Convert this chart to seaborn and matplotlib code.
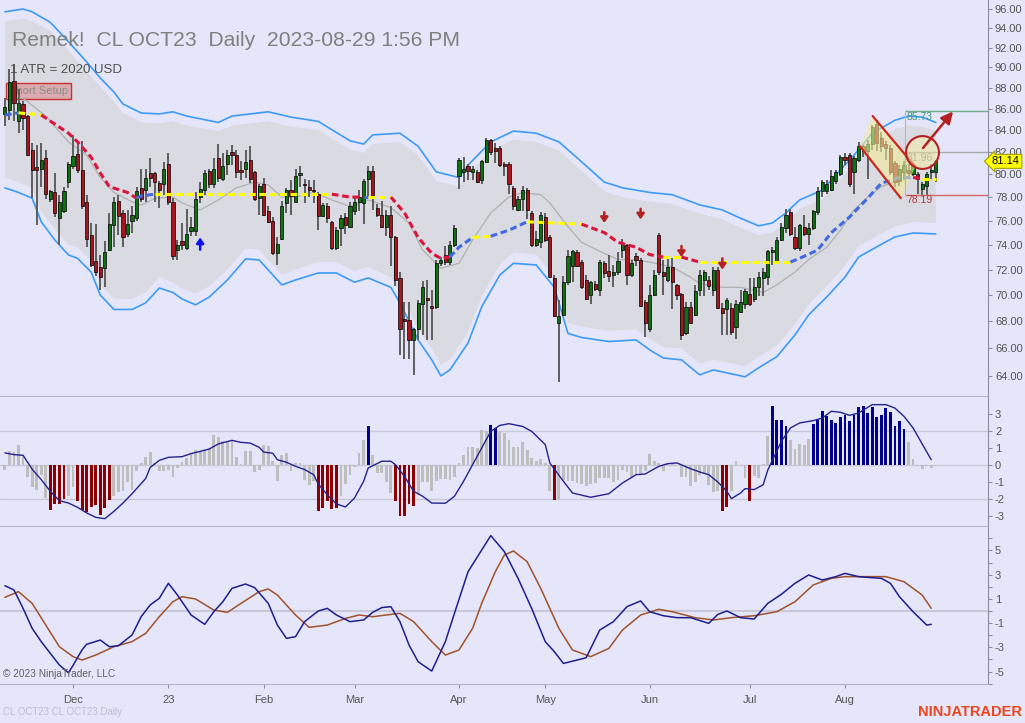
import numpy as np
import pandas as pd
import matplotlib
matplotlib.use("Agg")
import matplotlib.pyplot as plt
import matplotlib.transforms as mtransforms
from matplotlib.ticker import FixedLocator, NullLocator, FuncFormatter
from matplotlib.patches import Polygon
import seaborn as sns

sns.set_style("white")
plt.rcParams["font.family"] = ["Liberation Sans", "DejaVu Sans"]
plt.rcParams["axes.unicode_minus"] = False

# trading days on the chart (CL OCT23 daily)
dates = pd.bdate_range("2022-11-10", "2023-08-29")
dates = dates.drop(pd.to_datetime(["2022-12-26", "2023-01-02", "2023-04-07"]))
month_labels = ["Dec", "23", "Feb", "Mar", "Apr", "May", "Jun", "Jul", "Aug"]

# OHLC
opens = [85.5, 85.9, 88.7, 84.8, 86.4, 85.3, 82.2, 80.6, 80.5, 81.4,
         77.8, 78.4, 76.2, 76.8, 79.3, 80.7, 81.8, 80.4, 77.6, 74.8,
         72.7, 72.2, 72.1, 73.6, 75.6, 77.7, 76.6, 74.9, 76.0, 76.2,
         78.8, 78.6, 80.1, 80.1, 79.2, 79.1, 80.9, 77.6, 73.6, 74.3,
         73.7, 75.1, 75.1, 78.0, 78.6, 80.3, 79.1, 81.4, 79.6, 80.9,
         82.0, 81.7, 80.4, 80.5, 81.3, 80.2, 77.9, 79.1, 76.8, 76.0,
         73.3, 74.5, 77.5, 78.6, 77.6, 79.9, 79.15, 78.9, 78.65, 78.3,
         76.4, 77.2, 75.9, 73.7, 75.4, 76.3, 75.5, 76.8, 77.6, 77.5,
         79.6, 80.3, 77.1, 76.5, 75.5, 76.5, 74.6, 71.3, 68.2, 68.1,
         66.6, 67.4, 69.3, 69.75, 69.2, 69.1, 72.5, 73.2, 72.6, 74.0,
         79.8, 80.2, 80.7, 80.2, 80.2, 79.5, 81.1, 83.1, 82.3, 82.3,
         80.9, 80.9, 78.8, 76.9, 77.8, 78.6, 76.6, 74.0, 74.2, 76.3,
         74.6, 71.3, 67.9, 68.5, 71.0, 72.3, 73.4, 72.6, 71.2, 70.0,
         70.9, 70.4, 72.5, 71.9, 71.6, 71.8, 73.6, 74.0, 71.6, 73.1,
         72.8, 69.5, 67.4, 70.0, 74.8, 71.8, 71.2, 72.2, 70.8, 70.1,
         67.1, 69.1, 68.5, 70.4, 71.2, 71.2, 70.4, 72.0, 69.0, 68.9,
         69.0, 67.6, 68.7, 69.3, 70.1, 69.7, 70.6, 71.3, 71.4, 73.4,
         72.7, 74.4, 75.4, 76.7, 74.6, 73.7, 75.5, 74.9, 75.4, 76.7,
         78.5, 78.5, 78.6, 79.4, 80.0, 81.5, 81.7, 80.2, 81.3, 82.5,
         82.1, 82.7, 84.6, 83.3, 82.7, 82.3, 81.0, 79.4, 80.2, 80.4,
         80.0, 80.0, 78.7, 79.0, 80.2, 80.2]
highs = [87.0, 89.8, 90.3, 87.9, 86.7, 85.4, 82.8, 82.6, 82.8, 82.2,
         78.6, 80.1, 78.2, 78.9, 81.1, 83.5, 82.8, 83.0, 78.2, 75.8,
         75.7, 73.2, 74.3, 76.6, 78.0, 78.2, 76.9, 76.9, 77.2, 78.9,
         80.5, 80.5, 81.4, 80.2, 79.4, 81.1, 81.9, 77.9, 74.4, 75.8,
         77.0, 76.3, 78.4, 79.3, 80.4, 80.5, 81.4, 82.7, 81.9, 82.2,
         82.6, 82.2, 81.2, 82.2, 82.5, 80.3, 79.1, 79.7, 77.2, 76.3,
         74.6, 77.7, 78.8, 79.5, 80.5, 80.7, 79.6, 79.5, 79.5, 78.4,
         77.5, 77.5, 76.0, 75.5, 76.5, 76.6, 77.6, 78.0, 78.6, 79.6,
         80.7, 80.7, 77.4, 77.7, 76.9, 77.2, 74.7, 71.8, 69.5, 69.5,
         67.5, 69.6, 71.1, 71.2, 70.4, 72.8, 73.0, 73.9, 74.3, 75.6,
         81.4, 81.5, 80.9, 80.7, 80.4, 81.3, 83.3, 83.2, 82.8, 82.5,
         81.1, 81.1, 79.0, 78.1, 79.0, 78.8, 76.8, 75.1, 76.7, 76.6,
         74.8, 71.6, 69.6, 71.5, 73.6, 73.6, 73.6, 72.8, 71.6, 71.1,
         71.1, 72.8, 72.7, 73.2, 72.4, 73.4, 74.5, 74.1, 72.8, 73.3,
         72.9, 69.6, 70.8, 72.0, 75.0, 72.8, 72.9, 72.9, 70.9, 70.2,
         69.5, 69.5, 70.8, 72.0, 72.0, 71.5, 72.2, 72.2, 69.4, 69.8,
         69.4, 69.6, 70.4, 70.5, 71.3, 71.3, 71.8, 72.1, 73.6, 73.8,
         74.6, 75.8, 77.0, 77.0, 75.5, 75.7, 76.5, 75.8, 76.9, 78.9,
         79.5, 79.5, 80.4, 80.4, 81.7, 81.9, 81.9, 81.6, 82.9, 82.6,
         83.1, 84.5, 84.9, 83.8, 83.0, 82.6, 81.2, 80.8, 81.2, 80.9,
         80.9, 80.2, 79.3, 80.2, 80.9, 81.3]
lows = [84.4, 84.9, 84.8, 83.7, 84.0, 81.6, 77.9, 75.6, 78.9, 77.8,
        77.6, 76.3, 74.0, 76.6, 78.8, 80.5, 80.1, 77.0, 73.8, 72.2,
        71.5, 70.4, 70.6, 73.5, 73.8, 74.8, 73.8, 74.6, 75.0, 76.0,
        77.6, 77.6, 78.9, 77.6, 77.1, 78.2, 77.3, 72.8, 72.8, 73.6,
        73.6, 74.7, 74.7, 77.5, 78.2, 78.8, 78.8, 79.3, 79.4, 79.9,
        80.8, 79.7, 79.5, 79.7, 79.2, 77.7, 76.5, 76.4, 75.8, 73.2,
        72.4, 74.4, 76.6, 76.5, 77.6, 78.9, 77.5, 78.0, 77.5, 75.2,
        76.3, 75.8, 73.6, 73.6, 73.9, 74.9, 75.4, 76.5, 76.8, 75.7,
        78.0, 76.9, 76.3, 75.4, 74.7, 72.3, 70.7, 65.5, 65.2, 65.2,
        64.1, 66.6, 67.0, 66.6, 66.6, 68.9, 72.3, 72.4, 72.4, 73.8,
        78.7, 79.3, 79.5, 79.5, 79.2, 79.1, 81.0, 81.7, 81.0, 80.6,
        79.8, 78.3, 76.9, 76.8, 76.8, 76.1, 73.8, 73.8, 73.7, 74.2,
        71.3, 68.3, 63.6, 68.4, 70.8, 71.0, 72.2, 70.5, 69.6, 69.3,
        70.3, 69.9, 71.3, 71.0, 70.6, 71.6, 72.9, 70.8, 71.4, 72.3,
        69.1, 66.8, 67.2, 69.9, 71.6, 70.0, 71.0, 68.9, 69.6, 66.6,
        67.0, 67.8, 68.4, 69.9, 69.9, 70.4, 69.9, 68.9, 67.0, 67.0,
        67.0, 66.7, 68.6, 68.9, 69.2, 69.5, 69.9, 69.9, 70.8, 72.4,
        72.6, 74.3, 75.0, 74.7, 73.6, 73.5, 74.7, 74.0, 75.2, 76.5,
        78.0, 78.3, 78.5, 79.1, 79.8, 80.8, 78.9, 78.3, 81.1, 81.5,
        79.6, 82.2, 82.1, 82.0, 81.3, 79.9, 78.9, 79.0, 79.5, 79.8,
        79.8, 78.3, 78.1, 78.2, 79.6, 79.3]
closes = [86.2, 88.6, 86.5, 86.5, 85.1, 81.7, 80.4, 80.4, 81.3, 78.3,
          78.5, 76.6, 77.6, 78.5, 80.9, 81.6, 80.4, 77.2, 74.5, 72.4,
          71.8, 71.4, 73.4, 75.7, 77.6, 76.4, 74.6, 75.7, 76.5, 78.5,
          77.8, 79.7, 79.7, 79.3, 78.6, 80.5, 77.6, 73.1, 74.0, 74.0,
          74.9, 75.5, 77.8, 78.7, 80.1, 79.1, 80.5, 79.7, 80.7, 81.7,
          81.7, 80.2, 80.2, 81.1, 79.6, 77.8, 79.0, 76.5, 75.9, 73.3,
          74.1, 77.2, 78.6, 78.1, 79.8, 80.1, 79.05, 78.6, 78.55, 76.4,
          77.3, 76.2, 73.7, 75.2, 76.2, 75.6, 77.2, 77.6, 78.0, 79.4,
          80.3, 78.0, 76.5, 75.5, 76.5, 74.6, 71.2, 67.4, 68.0, 66.6,
          67.4, 69.4, 70.6, 69.65, 69.0, 72.5, 72.8, 72.6, 74.0, 75.4,
          81.3, 80.5, 80.3, 80.5, 79.3, 81.2, 83.1, 82.0, 82.1, 80.8,
          80.7, 79.1, 77.2, 77.8, 78.6, 76.9, 74.0, 74.5, 76.5, 74.4,
          71.4, 68.4, 68.4, 71.0, 73.1, 73.5, 72.3, 70.6, 69.7, 71.0,
          70.5, 72.6, 71.7, 71.5, 71.8, 72.7, 74.1, 71.6, 72.5, 72.8,
          69.2, 67.9, 70.0, 71.6, 71.8, 71.5, 72.2, 71.0, 70.0, 67.0,
          69.1, 67.9, 70.3, 71.6, 71.8, 70.7, 72.0, 69.0, 68.6, 69.6,
          67.2, 69.3, 69.5, 70.3, 69.3, 70.6, 71.4, 71.8, 73.5, 73.6,
          74.4, 75.5, 76.5, 74.9, 73.7, 75.6, 74.9, 75.4, 76.8, 78.5,
          79.3, 79.1, 79.8, 80.2, 81.5, 81.3, 79.1, 81.4, 82.5, 82.1,
          82.7, 84.3, 82.8, 82.5, 82.3, 80.2, 79.3, 80.5, 80.8, 80.1,
          80.8, 79.6, 79.1, 80.0, 80.4, 81.14]

# outer (blue) envelope
up_idx = [0, 4, 6, 10, 14, 18, 21, 24, 26, 30, 34, 37, 40, 47, 50, 58, 63, 69, 76, 79,
          81, 87, 91, 95, 100, 102, 107, 112, 117, 122, 127, 132, 136, 142, 147, 153, 158, 162, 166, 169,
          172, 175, 180, 184, 187, 191, 196, 199, 202, 205]
up_val = [95.7, 96.0, 95.7, 94.6, 92.6, 90.55, 88.96, 87.6, 86.44, 85.59, 85.5, 85.7, 85.3, 84.7, 85.3, 85.7, 85.2, 84.8, 83.0, 82.7,
          83.54, 83.7, 82.5, 80.2, 79.7, 80.8, 82.9, 83.9, 83.7, 82.9, 81.1, 79.3, 78.8, 78.4, 78.2, 77.33, 76.9, 76.2, 75.56, 75.8,
          76.65, 77.75, 78.6, 80.37, 81.7, 83.7, 84.9, 85.3, 85.2, 84.7]
lo_idx = [0, 3, 6, 8, 11, 14, 16, 19, 21, 24, 28, 31, 34, 37, 39, 42, 45, 49, 53, 56,
          59, 61, 64, 69, 73, 77, 80, 85, 87, 91, 94, 96, 98, 102, 105, 109, 112, 117, 121, 124,
          127, 133, 139, 142, 145, 149, 153, 156, 163, 166, 170, 174, 177, 181, 185, 188, 192, 196, 200, 205]
lo_val = [78.8, 78.4, 77.9, 75.9, 74.39, 73.17, 72.9, 71.8, 70.0, 68.9, 68.9, 69.4, 70.55, 70.2, 69.7, 69.25, 69.85, 71.18, 72.85, 72.77,
          71.57, 70.79, 71.18, 71.73, 71.73, 71.0, 71.34, 70.6, 69.4, 66.62, 65.17, 64.03, 64.45, 66.4, 69.1, 71.57, 72.5, 72.37, 70.6, 67.1,
          66.8, 66.5, 66.62, 65.89, 65.3, 65.17, 64.1, 64.45, 63.96, 64.6, 65.4, 66.99, 68.48, 69.86, 71.4, 73.0, 73.83, 74.64, 74.97, 74.89]
# inner grey channel (top on up_idx, bottom on lo_idx)
gray_top = [94.7, 95.0, 94.7, 93.7, 91.7, 89.6, 88.1, 86.7, 85.6, 84.7, 84.6, 84.8, 84.4, 83.9, 84.4, 84.8, 84.3, 84.0, 82.2, 81.9,
            82.7, 82.9, 81.7, 79.4, 78.9, 80.0, 82.1, 83.1, 82.9, 82.1, 80.3, 78.5, 78.0, 77.6, 77.4, 76.6, 76.1, 75.4, 74.8, 75.0,
            75.9, 77.0, 77.8, 79.6, 80.9, 82.9, 84.1, 84.4, 84.3, 83.9]
gray_bot = [79.7, 79.3, 78.8, 76.8, 75.3, 74.0, 73.8, 72.7, 70.8, 69.7, 69.7, 70.2, 71.4, 71.0, 70.5, 70.1, 70.7, 72.0, 73.7, 73.6,
            72.4, 71.6, 72.0, 72.6, 72.6, 71.9, 72.2, 71.4, 70.2, 67.4, 66.0, 64.8, 65.2, 67.2, 69.9, 72.4, 73.4, 73.2, 71.4, 67.9,
            67.6, 67.3, 67.4, 66.7, 66.1, 66.0, 64.9, 65.2, 64.7, 65.4, 66.2, 67.8, 69.3, 70.7, 72.3, 73.9, 74.7, 75.5, 75.9, 75.8]

# thin grey average
gm_idx = [4, 9, 14, 18, 21, 24, 28, 30, 33, 37, 39, 43, 47, 51, 55, 58, 61, 64, 68, 72,
          76, 80, 85, 89, 92, 96, 100, 103, 107, 111, 114, 118, 120, 124, 127, 132, 135, 138, 142, 147,
          151, 153, 158, 162, 167, 170, 174, 177, 181, 184, 187, 190, 193, 197]
gm_val = [87.0, 85.3, 82.9, 81.7, 79.7, 78.4, 77.6, 77.3, 77.9, 78.0, 77.5, 76.9, 77.75, 78.8, 79.3, 79.05, 78.0, 78.0, 78.4, 77.75,
          77.2, 77.75, 77.1, 75.8, 73.57, 72.1, 72.5, 74.4, 76.65, 78.0, 78.4, 78.2, 77.5, 75.5, 74.2, 73.3, 72.8, 72.8, 72.6, 72.2,
          71.4, 70.9, 70.6, 70.6, 70.2, 70.8, 71.8, 72.8, 73.8, 75.2, 76.9, 78.0, 78.9, 79.5]

# dashed trend average, segment colours: r = down, y = flat, b = up
ma_idx = [0, 3, 8, 14, 16, 19, 21, 23, 27, 29, 30, 33, 72, 76, 79, 80, 85, 88, 91, 94,
          96, 98, 100, 103, 107, 111, 115, 127, 132, 135, 139, 142, 145, 149, 153, 173, 175, 179, 182, 186,
          190, 193, 197, 200, 202, 205]
ma_val = [85.4, 85.6, 85.4, 83.7, 82.9, 81.5, 80.1, 78.9, 78.4, 77.9, 78.1, 78.25, 78.25, 78.0, 78.0, 78.0, 78.0, 76.65, 74.6, 73.3,
          72.9, 73.0, 73.8, 74.6, 74.7, 75.2, 75.9, 75.7, 75.0, 74.2, 73.8, 73.2, 73.0, 73.0, 72.6, 72.6, 72.9, 73.57, 75.0, 76.3,
          77.9, 79.2, 79.7, 79.7, 79.6, 79.6]
ma_seg = ("by" + "rrrrrrr" + "bb" + "y" + "rr" + "b" + "y" + "rrrrr" + "bb" + "y" + "bb" + "y"
          + "rrrrr" + "y" + "r" + "y" + "bbbbbbbb" + "r" + "y")

# signal arrows
buy_idx, buy_tail, buy_tip = [43], [73.6], [74.6]
sell_idx = [132, 140, 149, 158]
sell_tail = [76.7, 77.0, 73.9, 72.9]
sell_tip = [75.8, 76.1, 73.0, 72.0]

# drawing objects on the right
chan_x = [191.1, 200.5, 197.3, 188.3]
chan_y = [85.3, 80.66, 77.9, 82.5]
level_vals = [85.73, 81.96, 78.19]
level_start = 198.3
circle_x, circle_y = 201.9, 81.96
target_from = (202.2, 82.35)
target_to = (208.8, 85.73)
last_price = 81.14

# histogram panel
hist_vals = [-0.27, 0.80, 0.76, 1.20, 0.60, -0.73, -1.27, -1.45, -0.57, -1.94,
             -2.65, -2.29, -2.29, -1.98, -1.80, -1.31, -2.10, -2.63, -2.76, -2.49,
             -2.33, -2.96, -2.53, -2.06, -1.84, -1.61, -1.51, -1.00, -1.45, -0.33,
             0.12, 0.45, 0.76, 0.12, -0.33, -0.33, -0.31, -0.73, -0.18, 0.16,
             0.41, 0.65, 0.90, 0.84, 0.90, 1.00, 1.75, 1.63, 1.39, 1.39,
             1.39, 0.45, 0.05, 0.80, 0.80, -0.40, -0.27, 1.20, 1.10, 0.25,
             -0.92, 0.60, 0.70, -0.33, 0.10, 0.10, -0.86, -1.16, -0.92, -2.73,
             -2.53, -2.10, -2.60, -2.53, -1.84, -1.12, -0.60, -0.14, 0.70, 1.49,
             2.31, 0.60, -0.47, -0.47, -1.00, -1.65, -2.10, -3.02, -3.02, -2.29,
             -2.43, -1.75, -1.00, -1.00, -1.51, -0.92, -0.80, -0.80, -0.86, -0.73,
             0.12, 0.60, 1.04, 1.04, 1.00, 2.08, 2.00, 2.37, 2.18, 1.98,
             1.88, 1.49, 1.04, 1.04, 1.35, 0.90, 0.41, 0.25, 0.37, 0.12,
             -1.51, -2.04, -1.98, -0.86, -0.92, -0.92, -1.06, -1.12, -1.25, -1.12,
             -1.06, -0.76, -0.76, -0.76, -1.00, -0.86, -0.27, -0.41, -0.76, -0.61,
             -0.53, -0.33, 0.65, 0.22, 0.12, -0.37, 0.06, 0.06, 0.02, -0.73,
             -0.73, -1.25, -1.00, -0.57, -0.53, -1.20, -1.59, -1.55, -2.73, -2.49,
             -1.55, 0.22, 0.02, -0.76, -2.14, -0.63, -0.76, 0.06, 1.69, 3.45,
             2.67, 2.67, 2.31, 1.49, 0.96, 1.24, 1.16, 1.55, 2.41, 2.67,
             3.20, 2.86, 2.67, 2.47, 2.80, 2.92, 2.57, 2.96, 3.39, 3.45,
             3.06, 3.39, 2.80, 2.92, 3.35, 3.12, 2.27, 2.57, 2.12, 1.35,
             0.37, -0.05, -0.22, -0.08, -0.18, np.nan]
hist_kind = ("g" * 10 + "r" * 4 + "g" * 2 + "r" * 8 + "g" * 45 + "r" * 5 + "g" * 6 + "b" + "g" * 5
             + "r" * 5 + "g" * 16 + "b" * 2 + "g" * 12 + "r" + "g" * 36 + "r" * 2 + "g" * 4 + "r"
             + "g" * 4 + "b" * 4 + "g" * 5 + "b" * 21 + "g" * 7)
hl_idx = [0, 2, 4, 6, 8, 10, 12, 14, 16, 18, 20, 22, 24, 26, 28, 31, 32, 34, 36, 39,
          41, 43, 45, 47, 50, 52, 54, 56, 57, 59, 60, 62, 64, 66, 68, 69, 71, 73, 75, 77,
          79, 80, 83, 85, 86, 88, 90, 92, 94, 97, 99, 101, 103, 105, 107, 109, 111, 114, 116, 119,
          120, 123, 125, 129, 133, 136, 139, 141, 144, 146, 148, 151, 153, 155, 157, 159, 160, 162, 163, 165,
          167, 168, 171, 173, 175, 178, 180, 182, 184, 186, 188, 191, 194, 196, 198, 200, 202, 204]
hl_val = [0.71, 0.61, 0.57, -0.25, -0.86, -1.55, -2.10, -2.24, -2.49, -2.82, -3.08, -3.16, -2.73, -2.24, -1.69, -0.80, -0.14, 0.27, 0.45, 0.49,
          0.67, 0.80, 0.94, 1.24, 1.45, 1.33, 1.29, 1.04, 0.76, 0.69, 0.31, 0.16, -0.08, -0.27, -0.57, -1.12, -1.75, -2.29, -2.47, -1.94,
          -0.96, -0.18, 0.22, 0.22, 0.02, -0.67, -1.55, -1.84, -2.24, -2.25, -1.84, -0.96, 0.02, 1.00, 1.98, 2.33, 2.43, 2.27, 1.98, 1.20,
          0.12, -0.96, -1.65, -1.90, -1.69, -1.06, -0.57, -0.53, -0.08, 0.08, 0.12, -0.22, -0.41, -0.57, -1.00, -1.55, -1.98, -1.65, -1.39, -1.45,
          -1.16, -0.30, 1.39, 2.18, 2.47, 2.61, 2.76, 3.16, 3.10, 2.92, 3.06, 3.55, 3.55, 3.35, 2.86, 2.18, 1.24, 0.31]

# lower oscillator (fast navy, slow brown)
fast_idx = [0, 2, 4, 6, 8, 10, 12, 14, 15, 17, 18, 21, 23, 25, 28, 30, 32, 34, 36, 38,
            41, 44, 46, 48, 50, 53, 55, 58, 60, 62, 64, 66, 69, 71, 73, 76, 79, 81, 83, 85,
            87, 89, 91, 94, 97, 99, 102, 105, 107, 110, 113, 116, 119, 121, 123, 126, 128, 131, 134, 137,
            140, 142, 145, 148, 151, 155, 157, 159, 162, 165, 168, 171, 174, 177, 180, 183, 185, 188, 191, 193,
            195, 197, 200, 203, 204]
fast_val = [2.09, 1.74, 0.22, -1.43, -2.53, -3.50, -4.46, -5.10, -4.50, -3.20, -2.75, -2.40, -2.95, -2.87, -1.98, -0.47, 0.50, 1.05, 2.29, 1.32,
            -0.33, -1.10, -0.06, 0.77, 1.87, 2.23, 1.93, 0.63, -1.16, -2.26, -2.12, -0.88, 0.00, 0.22, -0.33, -0.88, -0.74, -0.11, 0.28, 0.36,
            -0.88, -2.81, -4.19, -4.96, -2.53, -0.19, 3.25, 5.04, 6.23, 4.90, 2.70, 0.22, -2.53, -3.36, -4.33, -4.05, -3.86, -1.57, -0.88, 0.36,
            0.83, -0.06, -0.39, -0.55, -0.55, -1.02, -0.28, 0.00, -0.55, -0.66, 0.63, 1.38, 2.29, 2.98, 2.56, 2.84, 3.11, 2.84, 2.75, 2.70,
            2.29, 1.18, -0.06, -1.16, -1.10]
slow_idx = [0, 3, 6, 9, 12, 15, 17, 20, 24, 28, 31, 34, 37, 39, 42, 46, 49, 52, 56, 58,
            60, 64, 67, 71, 75, 78, 81, 84, 87, 90, 94, 97, 100, 103, 105, 108, 110, 112, 115, 118,
            122, 125, 129, 133, 136, 140, 144, 147, 152, 156, 160, 165, 170, 174, 178, 182, 185, 190, 194, 198,
            202, 204]
slow_val = [1.13, 1.60, 0.63, -1.16, -2.95, -3.77, -4.05, -3.64, -2.95, -2.53, -1.85, -0.47, 0.77, 1.18, 0.99, 0.08, -0.11, 0.63, 1.60, 1.82,
            1.32, -0.33, -1.35, -1.16, -0.61, -0.33, -0.47, -0.33, -0.19, -0.88, -2.53, -3.64, -3.22, -1.43, 0.63, 3.25, 4.63, 4.96, 4.08, 1.87,
            -1.43, -3.22, -3.77, -3.09, -1.57, -0.33, 0.14, -0.06, -0.55, -0.74, -0.55, -0.39, -0.06, 0.77, 2.15, 2.70, 2.84, 2.84, 2.84, 2.42,
            1.32, 0.22]

price_ticks = list(range(64, 97, 2))

BG = "#E6E6FA"
W, H = 1025, 723
XLIM = (-1.08, 216.5)

fig = plt.figure(figsize=(W / 100, H / 100), dpi=100, facecolor=BG)
ax1 = fig.add_axes([0, 1 - 396 / H, 988 / W, 396 / H])
ax2 = fig.add_axes([0, 1 - 526 / H, 988 / W, 129 / H])
ax3 = fig.add_axes([0, 1 - 684 / H, 988 / W, 157 / H])

for ax in (ax1, ax2, ax3):
    ax.set_facecolor(BG)
    ax.set_xlim(*XLIM)
    for s in ("left", "top"):
        ax.spines[s].set_visible(False)
    ax.spines["right"].set_color("#8C8C9C")
    ax.spines["bottom"].set_color("#B4B4C8")
    ax.yaxis.tick_right()
    ax.tick_params(axis="y", which="both", direction="out", length=3, width=0.8,
                   colors="#8C8C9C", labelcolor="#555555", labelsize=8, pad=2)
    ax.tick_params(axis="x", bottom=False, labelbottom=False)

# ---- price panel
ax1.set_yscale("log")
ax1.set_ylim(62.62, 96.96)
ax1.yaxis.set_major_locator(FixedLocator(price_ticks))
ax1.yaxis.set_minor_locator(NullLocator())
ax1.yaxis.set_major_formatter(FuncFormatter(lambda v, p: f"{v:.2f}"))

ax1.fill(list(up_idx) + lo_idx[::-1], gray_top + gray_bot[::-1], color="#DADAE2", lw=0, zorder=1)
sns.lineplot(x=up_idx, y=up_val, ax=ax1, color="#3D9BF5", linewidth=1.2, zorder=2)
sns.lineplot(x=lo_idx, y=lo_val, ax=ax1, color="#3D9BF5", linewidth=1.2, zorder=2)
sns.lineplot(x=gm_idx, y=gm_val, ax=ax1, color="#B0B0B0", linewidth=0.9, zorder=2)

x = np.arange(len(closes))
o, h, l, c = map(np.array, (opens, highs, lows, closes))
body_lo = np.minimum(o, c)
body_h = np.maximum(np.abs(c - o), 0.07)
ax1.vlines(x, l, h, color="#5E5E5E", linewidth=1.4, zorder=4)
ax1.bar(x, body_h, bottom=body_lo, width=0.7, color=np.where(c >= o, "#0E700E", "#A5161E"),
        edgecolor="black", linewidth=0.5, zorder=5)

dash_colors = {"r": "#DC143C", "y": "#FFFF00", "b": "#4169E1"}
start = 0
for k in range(1, len(ma_seg) + 1):
    if k == len(ma_seg) or ma_seg[k] != ma_seg[start]:
        ax1.plot(ma_idx[start:k + 1], ma_val[start:k + 1], color=dash_colors[ma_seg[start]],
                 lw=2.2, ls=(0, (2.2, 1.2)), zorder=6)
        start = k

arrow_style = "-|>,head_width=0.22,head_length=0.32"
for i, tail, tip in zip(buy_idx, buy_tail, buy_tip):
    ax1.annotate("", xy=(i, tip), xytext=(i, tail), zorder=6,
                 arrowprops=dict(arrowstyle=arrow_style, color="#1010F0", lw=1.8, shrinkA=0, shrinkB=0))
for i, tail, tip in zip(sell_idx, sell_tail, sell_tip):
    ax1.annotate("", xy=(i, tip), xytext=(i, tail), zorder=6,
                 arrowprops=dict(arrowstyle=arrow_style, color="#B22222", lw=1.8, shrinkA=0, shrinkB=0))

ax1.add_patch(Polygon(list(zip(chan_x, chan_y)), closed=True, fc="#F2EC9A", alpha=0.6, ec="none", zorder=7))
ax1.plot(chan_x[:2], chan_y[:2], color="#C8281E", lw=1.6, zorder=8)
ax1.plot(chan_x[2:], chan_y[2:], color="#C8281E", lw=1.6, zorder=8)

level_line_cols = ["#6FAF8F", "#A8A8A8", "#D06A6A"]
level_text_cols = ["#3E9A72", "#8C8C8C", "#B03A3A"]
ax1.hlines(level_vals, level_start, XLIM[1], colors=level_line_cols, lw=1, zorder=7)
ax1.vlines(level_start, min(level_vals), max(level_vals), color="#B8B8C0", lw=0.8, zorder=7)
for v, col in zip(level_vals, level_text_cols):
    ax1.annotate(f"{v:.2f}", xy=(level_start, v), xytext=(1, -4), textcoords="offset points",
                 fontsize=7.5, color=col, va="center", ha="left", zorder=9)

ax1.scatter([circle_x], [circle_y], s=560, facecolor=(0.98, 0.95, 0.6, 0.45),
            edgecolor="#B22222", linewidth=1.5, zorder=9)
ax1.annotate("", xy=target_to, xytext=target_from, zorder=10, annotation_clip=False,
             arrowprops=dict(arrowstyle="-|>,head_width=0.35,head_length=0.7", color="#B22222",
                             lw=1.8, shrinkA=0, shrinkB=0))

trans = mtransforms.blended_transform_factory(ax1.transAxes, ax1.transData)
ax1.text(1.004, last_price, f"{last_price:.2f}", transform=trans, fontsize=8, color="black",
         va="center", ha="left", clip_on=False, zorder=12,
         bbox=dict(boxstyle="larrow,pad=0.18", fc="#FFFF00", ec="#A0A000", lw=0.8))

ax1.text(9 / W, 1 - 91 / H, "Short Setup", transform=fig.transFigure, fontsize=8, color="#8C8C8C",
         va="center", ha="left", zorder=1,
         bbox=dict(boxstyle="square,pad=0.3", fc=(0.87, 0.45, 0.45, 0.45), ec="#C83232", lw=1))

# ---- histogram panel
ax2.set_ylim(-3.59, 4.0)
ax2.set_yticks([3, 2, 1, 0, -1, -2, -3])
for lvl in (2, 0, -2):
    ax2.axhline(lvl, color="#C8C8DA", lw=1, zorder=0)
kind_colors = {"g": "#BEBEBE", "r": "#8B0000", "b": "#00008B"}
ax2.bar(x, hist_vals, width=0.62, color=[kind_colors[k] for k in hist_kind], linewidth=0, zorder=2)
sns.lineplot(x=hl_idx, y=hl_val, ax=ax2, color="#23238E", linewidth=1.0, zorder=3)

# ---- oscillator panel
ax3.set_ylim(-6.03, 6.94)
ax3.yaxis.set_major_locator(FixedLocator([5, 3, 1, -1, -3, -5]))
ax3.yaxis.set_minor_locator(FixedLocator([6, 4, 2, 0, -2, -4, -6]))
ax3.axhline(0, color="#C8C8DA", lw=1.5, zorder=0)
sns.lineplot(x=slow_idx, y=slow_val, ax=ax3, color="#A0522D", linewidth=1.1, zorder=2)
sns.lineplot(x=fast_idx, y=fast_val, ax=ax3, color="#1E1E8C", linewidth=1.1, zorder=3)

month_starts = [i for i in range(1, len(dates)) if dates[i].month != dates[i - 1].month]
ax3.set_xticks(month_starts)
ax3.set_xticklabels(month_labels)
ax3.tick_params(axis="x", bottom=True, labelbottom=True, direction="out", length=3,
                color="#8C8C9C", labelcolor="#555555", labelsize=8, pad=5)

for ax in (ax1, ax2, ax3):
    ax.set_xlabel("")
    ax.set_ylabel("")
    ax.set_xlim(*XLIM)

# ---- texts
fig.text(12 / W, 1 - 41 / H, "Remek!  CL OCT23  Daily  2023-08-29 1:56 PM", fontsize=15.2,
         color="#808080", va="center", ha="left")
fig.text(10 / W, 1 - 70 / H, "1 ATR = 2020 USD", fontsize=9.5, color="#505050", va="center", ha="left")
fig.text(3 / W, 1 - 674 / H, "© 2023 NinjaTrader, LLC", fontsize=7.3, color="#606060", va="center", ha="left")
fig.text(3 / W, 1 - 712 / H, "CL OCT23 CL OCT23 Daily", fontsize=7, color="#BDBDCD", va="center", ha="left")
fig.text(1022 / W, 1 - 712 / H, "NINJATRADER", fontsize=10.5, fontweight="bold", color="#E8461E",
         va="center", ha="right")

fig.savefig("out.png", dpi=100, facecolor=BG)
